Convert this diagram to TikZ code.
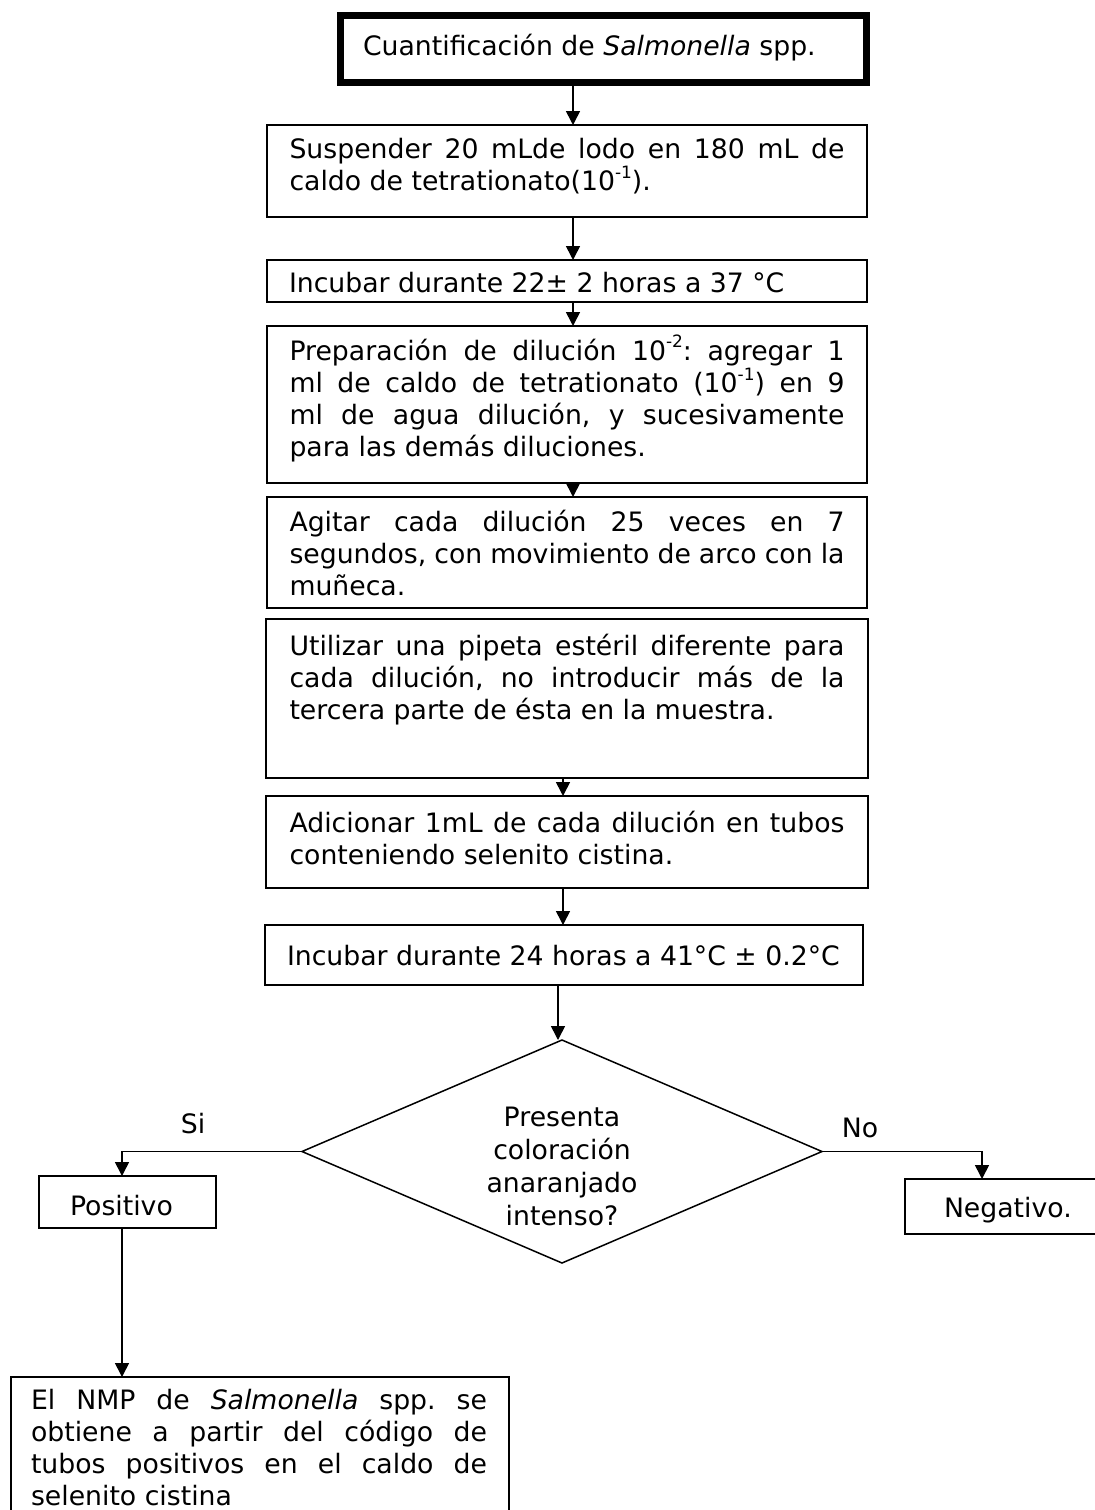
\documentclass[tikz,border=0pt]{standalone}
\usepackage{fontspec}
\setmainfont{DejaVu Sans}
\usetikzlibrary{arrows.meta,shapes.geometric}
% raised exponent in running text
\newcommand\expo[1]{\raisebox{0.45em}{\fontsize{17pt}{17pt}\selectfont #1}}
% fixes the height of the first line so that text nodes sit on a known baseline
\newcommand\firststrut{\rule{0pt}{25pt}}
\frenchspacing

\begin{document}
\begin{tikzpicture}[x=1pt,y=-1pt,
  every node/.style={inner sep=0pt, outer sep=0pt},
  txt/.style={font=\fontsize{26.7pt}{32.3pt}\selectfont},
  frame/.style={draw, rectangle, line width=1.6pt, anchor=north west},
  titleframe/.style={draw, rectangle, line width=7pt, anchor=north west},
  body/.style={txt, anchor=north west, text width=555pt, align=justify},
  arr/.style={line width=1.6pt, -{Triangle[width=14pt,length=14pt]}}]

\useasboundingbox (0,0) rectangle (1095,1510);
\fill[white] (0,0) rectangle (1095,1510);
\clip (0,0) rectangle (1095,1510);

% x positions of the vertical connectors
\coordinate (xa) at (573,0);
\coordinate (xb) at (563,0);
\coordinate (xe) at (558,0);
\coordinate (xc) at (122,0);
\coordinate (xd) at (982,0);

% title
\node[titleframe, minimum width=526pt, minimum height=67pt] (b1) at (340.5,15.5) {};
\node[txt, anchor=base west] (t1) at (363,55) {Cuantificación de \textit{Salmonella} spp.};

% process steps
\node[frame, minimum width=600pt, minimum height=92pt] (b2) at (267,125) {};
\node[body] (t2) at (289.5,133) {\noindent\firststrut Suspender 20 mLde lodo en 180 mL de\linebreak
  caldo de tetrationato(10\expo{-1}).};

\node[frame, minimum width=600pt, minimum height=42pt] (b3) at (267,260) {};
\node[txt, anchor=base west] (t3) at (289,292) {Incubar durante 22± 2 horas a 37 °C};

\node[frame, minimum width=600pt, minimum height=157pt] (b4) at (267,326) {};
\node[body] (t4) at (289.5,335) {\noindent\firststrut Preparación de dilución 10\expo{-2}: agregar 1\linebreak
  ml de caldo de tetrationato (10\expo{-1}) en 9\linebreak
  ml de agua dilución, y sucesivamente\linebreak
  para las demás diluciones.};

\node[frame, minimum width=600pt, minimum height=111pt] (b5) at (267,497) {};
\node[body] (t5) at (289.5,506) {\noindent\firststrut Agitar cada dilución 25 veces en 7\linebreak
  segundos, con movimiento de arco con la\linebreak
  muñeca.};

\node[frame, minimum width=602pt, minimum height=159pt] (b6) at (266,619) {};
\node[body] (t6) at (289.5,630) {\noindent\firststrut Utilizar una pipeta estéril diferente para\linebreak
  cada dilución, no introducir más de la\linebreak
  tercera parte de ésta en la muestra.};

\node[frame, minimum width=602pt, minimum height=92pt] (b7) at (266,796) {};
\node[body] (t7) at (289.5,807) {\noindent\firststrut Adicionar 1mL de cada dilución en tubos\linebreak
  conteniendo selenito cistina.};

\node[frame, minimum width=598pt, minimum height=60pt] (b8) at (265,925) {};
\node[txt, anchor=base west] (t8) at (287,965) {Incubar durante 24 horas a 41°C ± 0.2°C};

% decision
\node[draw, line width=1.5pt, shape=diamond, aspect=2.34,
      minimum width=520pt, minimum height=223pt] (dec) at (562,1151.5) {};
\begin{scope}
  \clip (400,1080) rectangle (730,1226);
  \node[txt, anchor=north, align=center, font=\fontsize{26.7pt}{33pt}\selectfont]
    (q) at (562,1101) {\firststrut Presenta\\coloración\\anaranjado\\intenso?};
\end{scope}
\node[txt, anchor=base] (si) at (193,1133) {Si};
\node[txt, anchor=base] (no) at (860,1137) {No};

% outcomes
\node[frame, minimum width=177pt, minimum height=52pt] (pos) at (39,1176) {};
\node[txt, anchor=base west] (tp) at (70,1215) {Positivo};

\node[frame, minimum width=200pt, minimum height=55pt] (neg) at (905,1179) {};
\node[txt, anchor=base west] (tn) at (944,1217) {Negativo.};

\node[frame, minimum width=498pt, minimum height=170pt] (res) at (11,1377) {};
\node[body, text width=456pt, font=\fontsize{26.7pt}{32pt}\selectfont] (tr) at (31,1384)
  {\noindent\firststrut El NMP de \textit{Salmonella} spp. se\linebreak
  obtiene a partir del código de\linebreak
  tubos positivos en el caldo de\linebreak
  selenito cistina};

% connectors
\draw[arr] (b1.south -| xa) -- (b2.north -| xa);
\draw[arr] (b2.south -| xa) -- (b3.north -| xa);
\draw[arr] (b3.south -| xa) -- (b4.north -| xa);
\draw[arr] (b4.south -| xa) -- (b5.north -| xa);
\draw[arr] (b6.south -| xb) -- (b7.north -| xb);
\draw[arr] (b7.south -| xb) -- (b8.north -| xb);
\draw[arr] (b8.south -| xe) -- (dec.north -| xe);
\draw[arr] (dec.west) -| (pos.north -| xc);
\draw[arr] (pos.south -| xc) -- (res.north -| xc);
\draw[arr] (dec.east) -| (neg.north -| xd);
\end{tikzpicture}
\end{document}
